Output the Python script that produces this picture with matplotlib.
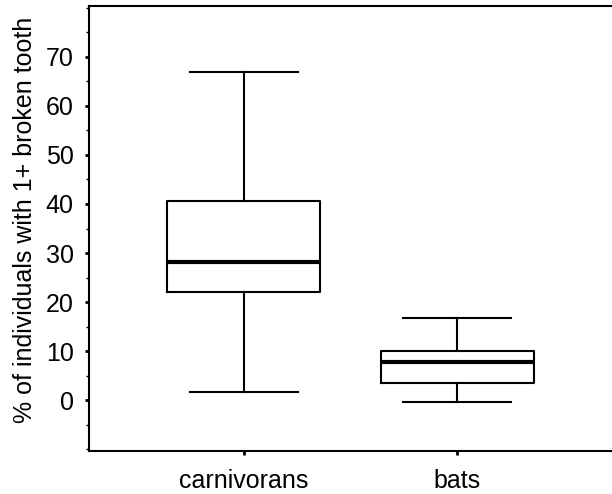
import matplotlib.pyplot as plt
from matplotlib.ticker import MultipleLocator

plt.rcParams['font.family'] = ['Liberation Sans', 'DejaVu Sans']

groups = ['carnivorans', 'bats']
whisker_lo = [1.6, -0.3]
q1 = [22.0, 3.5]
median = [28.2, 7.8]
q3 = [40.7, 10.1]
whisker_hi = [66.9, 16.7]

stats = []
for i in range(len(groups)):
    stats.append({'label': groups[i], 'whislo': whisker_lo[i], 'q1': q1[i],
                  'med': median[i], 'q3': q3[i], 'whishi': whisker_hi[i]})

fig = plt.figure(figsize=(6.12, 4.94), dpi=100)
ax = fig.add_axes([89/612, 43/494, 523/612, 445/494])

ax.bxp(stats, positions=[1, 2], widths=0.715, capwidths=0.505,
       showfliers=False, patch_artist=False,
       boxprops=dict(color='black', linewidth=1.5),
       whiskerprops=dict(color='black', linewidth=1.5),
       capprops=dict(color='black', linewidth=1.5),
       medianprops=dict(color='black', linewidth=3))

ax.set_xlim(0.276, 2.724)
ax.set_ylim(-10.4, 80.4)
ax.yaxis.set_minor_locator(MultipleLocator(5))
ax.set_yticks(range(0, 80, 10))
ax.tick_params(axis='y', which='major', length=3, width=2, labelsize=18, pad=8)
ax.tick_params(axis='y', which='minor', length=2, width=1)
ax.tick_params(axis='x', length=3, width=2, labelsize=18, pad=10)
ax.spines['right'].set_visible(False)
for s in ['left', 'top', 'bottom']:
    ax.spines[s].set_linewidth(1.5)

ax.set_ylabel('% of individuals with 1+ broken tooth', fontsize=18)
ax.yaxis.set_label_coords(-0.1, 0.519)

fig.savefig('out.png', dpi=100)
